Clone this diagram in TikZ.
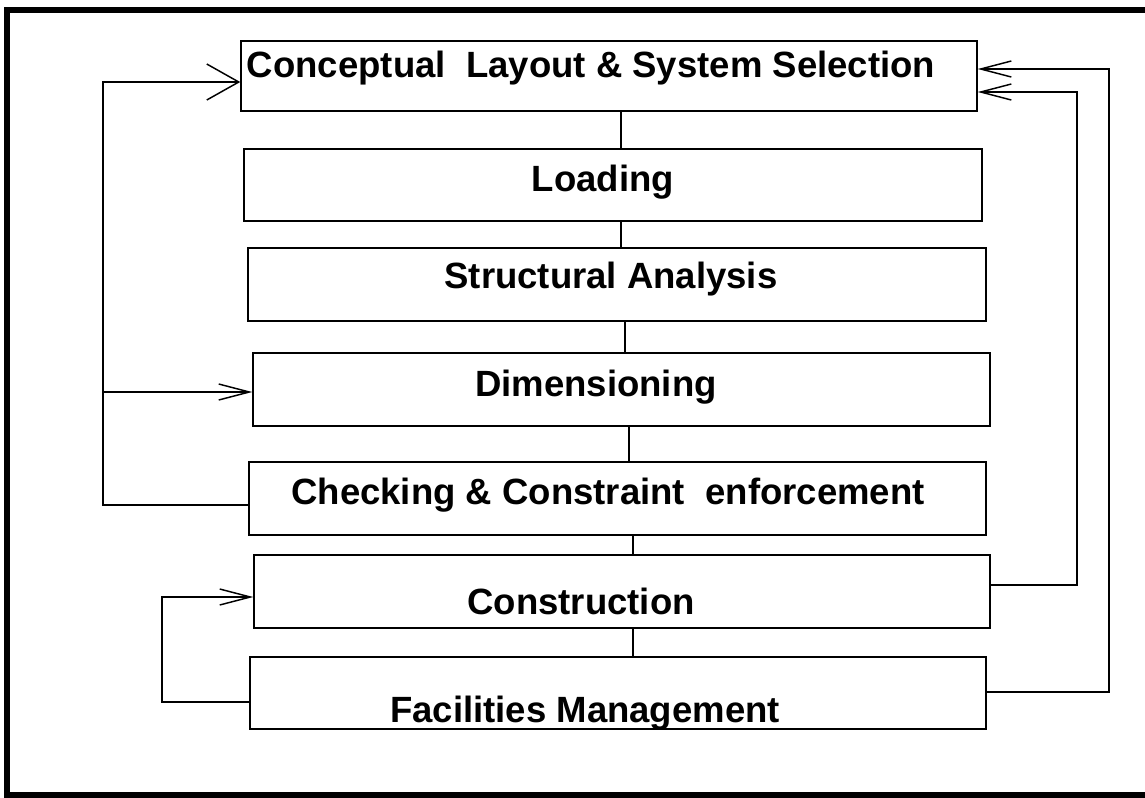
\documentclass[tikz,border=0pt]{standalone}
\usepackage{fontspec}
\setmainfont{Liberation Sans}
\usetikzlibrary{arrows.meta,fit}
\begin{document}
\begin{tikzpicture}[x=0.75pt,y=-0.75pt,
  box/.style={draw,line width=1.1pt,inner sep=0pt,rectangle},
  lbl/.style={font=\bfseries\fontsize{27.4}{32}\selectfont,anchor=base,inner sep=0pt},
  link/.style={line width=1.1pt},
  fb/.style={line width=1.1pt,-{Straight Barb[length=23pt,width=12pt,line width=1.1pt]}},
  fbwide/.style={line width=1.1pt,-{Straight Barb[length=24pt,width=27pt,line width=1.1pt]}}]
\useasboundingbox (0,0) rectangle (1145,797);
% heavy frame, open to the right
\draw[line width=4pt] (1160,10) -- (7,10) -- (7,795) -- (1160,795);

% process boxes
\node[box,fit={(241,41) (977,111)}]  (b1) {};
\node[box,fit={(244,149) (982,221)}] (b2) {};
\node[box,fit={(248,248) (986,321)}] (b3) {};
\node[box,fit={(253,353) (990,426)}] (b4) {};
\node[box,fit={(249,462) (986,535)}] (b5) {};
\node[box,fit={(254,555) (990,628)}] (b6) {};
\node[box,fit={(250,657) (986,729)}] (b7) {};

% box labels
\node[lbl] (t1) at (591,77)  {Conceptual\ \ Layout \& System Selection};
\node[lbl] (t2) at (603,191) {Loading};
\node[lbl] (t3) at (611,288) {Structural Analysis};
\node[lbl] (t4) at (596,396) {Dimensioning};
\node[lbl] (t5) at (608,504) {Checking \& Constraint\ \ enforcement};
\node[lbl] (t6) at (581,614) {Construction};
\node[lbl] (t7) at (585,722) {Facilities Management};

% sequence links between boxes
\draw[link] (b1.south -| 621,0) -- (b2.north -| 621,0);
\draw[link] (b2.south -| 621,0) -- (b3.north -| 621,0);
\draw[link] (b3.south -| 625,0) -- (b4.north -| 625,0);
\draw[link] (b4.south -| 629,0) -- (b5.north -| 629,0);
\draw[link] (b5.south -| 633,0) -- (b6.north -| 633,0);
\draw[link] (b6.south -| 633,0) -- (b7.north -| 633,0);

% feedback loops on the left
\coordinate (lA) at (103,505);
\coordinate (lB) at (103,82);
\coordinate (lJ) at (103,392);
\draw[fbwide] (b5.west |- lA) -- (lA) -- (lB) -- (b1.west |- lB);
\draw[fb] (lJ) -- (b4.west |- lJ);
\coordinate (lC) at (162,702);
\coordinate (lD) at (162,597);
\draw[fb] (b7.west |- lC) -- (lC) -- (lD) -- (b6.west |- lD);

% feedback loops on the right
\coordinate (rA) at (1109,692);
\coordinate (rB) at (1109,69);
\draw[fb] (b7.east |- rA) -- (rA) -- (rB) -- (b1.east |- rB);
\coordinate (rC) at (1077,585);
\coordinate (rD) at (1077,92);
\draw[fb] (b6.east |- rC) -- (rC) -- (rD) -- (b1.east |- rD);
\end{tikzpicture}
\end{document}
